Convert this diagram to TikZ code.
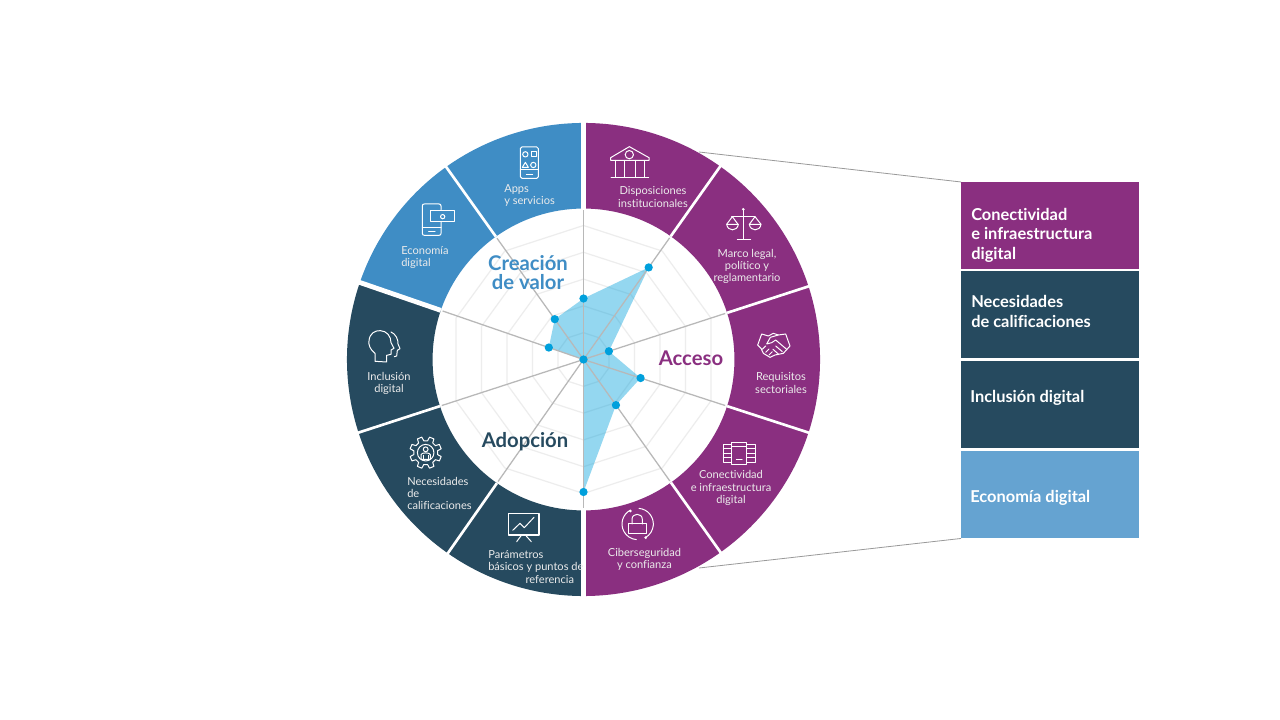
\documentclass[tikz,border=0pt]{standalone}
\usepackage{fontspec}
\setmainfont[Ligatures=NoCommon]{Lato}
\definecolor{cpurple}{HTML}{8A2F80}
\definecolor{cdark}{HTML}{264A5F}
\definecolor{cblue}{HTML}{3F8DC5}
\definecolor{clight}{HTML}{65A3D1}
\definecolor{cpoint}{HTML}{00A0DC}
\tikzset{
  gapline/.style={draw=white,line width=2pt},
  midgap/.style={draw=white,line width=3.5pt},
  widegap/.style={draw=white,line width=3.6pt},
  gridline/.style={draw=black!7,line width=.9pt},
  spoke/.style={draw=black!28,line width=.95pt},
  datapoint/.style={circle,fill=cpoint,draw=none,inner sep=0pt,minimum size=6.2pt},
  small/.style={text=white!92!black,font=\fontsize{8.3}{9.2}\selectfont,inner sep=0pt,align=center},
  smallleft/.style={small,align=left,anchor=west},
  head/.style={font=\bfseries\fontsize{15.2}{14.6}\selectfont,inner sep=0pt,align=center},
  boxfill/.style={draw=none,minimum width=133.5pt,minimum height=65.2pt,inner sep=0pt,anchor=north west},
  boxtext/.style={text=white,font=\bfseries\fontsize{12.3}{14.6}\selectfont,inner sep=0pt,align=left,anchor=west},
  icon/.style={draw=white,line width=.75pt,line join=round,line cap=round},
  leader/.style={draw=black!40,line width=.6pt},
}
\begin{document}
\begin{tikzpicture}[x=.75pt,y=.75pt]
\useasboundingbox (0,0) rectangle (1280,720);
\fill[white] (0,0) rectangle (1280,720);

% ---- wheel
\begin{scope}[shift={(583.5,720-359.5)}]
  \def\Ro{177.4pt}\def\Ri{113.2pt}
  \fill[cpurple] (90:\Ro) arc[start angle=90,end angle=-90,radius=\Ro] -- (-90:\Ri) arc[start angle=-90,end angle=90,radius=\Ri] -- cycle;
  \fill[cdark] (-90:\Ro) arc[start angle=-90,end angle=-199,radius=\Ro] -- (-199:\Ri) arc[start angle=-199,end angle=-90,radius=\Ri] -- cycle;
  \fill[cblue] (-199:\Ro) arc[start angle=-199,end angle=-270,radius=\Ro] -- (-270:\Ri) arc[start angle=-270,end angle=-199,radius=\Ri] -- cycle;
  \foreach \a in {54.7,18,-18,-54.6,-125,-162,-234.5}
    \draw[gapline] (\a:\Ri) -- (\a:180pt);
  \foreach \a in {90,-90}
    \draw[midgap] (\a:\Ri) -- (\a:180pt);
  \draw[widegap] (-199:\Ri) -- (-199:180pt);
  % grid
  \foreach \r in {26.8,53.6,80.4,107.2,134}
    \draw[gridline] (90:\r) -- (54:\r) -- (18:\r) -- (-18:\r) -- (-54:\r) -- (-90:\r) -- (-126:\r) -- (-162:\r) -- (-198:\r) -- (-234:\r) -- cycle;
  % data polygon
  \coordinate (c0) at (0,0);
  \coordinate (p0) at (90:61);
  \coordinate (p1) at (54.7:112.8);
  \coordinate (p2) at (18:26.7);
  \coordinate (p3) at (-18:60);
  \coordinate (p4) at (-54.6:56);
  \coordinate (p5) at (-90:132.5);
  \coordinate (p8) at (-199:36.7);
  \coordinate (p9) at (-234.5:49.5);
  \fill[cpoint,opacity=.42] (p0) -- (p1) -- (p2) -- (p3) -- (p4) -- (p5) -- (c0) -- (p8) -- (p9) -- cycle;
  % spokes
  \foreach \a in {90,54.7,18,-18,-54.6,-90,-125,-162,-199,-234.5}
    \draw[spoke] (c0) -- (\a:149);
  \foreach \n in {p0,p1,p2,p3,p4,p5,p8,p9,c0}
    \node[datapoint] at (\n) {};
\end{scope}

% ---- headings
\node[head,text=cblue] (hcrea) at (528,720-272.5) {Creación\\de valor};
\node[head,text=cpurple] (hacc) at (691,720-358) {Acceso};
\node[head,text=cdark] (hadop) at (525,720-442) {Adopción};

% ---- segment labels
\node[small] (t1) at (653,720-197) {Disposiciones\\institucionales};
\node[small] (t2) at (747,720-266.5) {Marco legal,\\político y\\reglamentario};
\node[small] (t3) at (781,720-383) {Requisitos\\sectoriales};
\node[small] (t4) at (731,720-488) {Conectividad\\e infraestructura\\digital};
\node[small] (t5) at (644.5,720-559.5) {Ciberseguridad\\y confianza};
\node[smallleft] (t6) at (488,720-567) {Parámetros\\básicos y puntos de\\\hspace*{28pt}referencia};
\node[smallleft] (t7) at (407,720-493.5) {Necesidades\\de\\calificaciones};
\node[small] (t8) at (389,720-383.5) {Inclusión\\digital};
\node[smallleft] (t9) at (401,720-257.5) {Economía\\digital};
\node[smallleft] (t10) at (504,720-195.5) {Apps\\y servicios};

% ---- right boxes
\node[boxfill,fill=cpurple] (b1) at (961,720-182) {};
\node[boxfill,fill=cdark] (b2) at (961,720-271) {};
\node[boxfill,fill=cdark] (b3) at (961,720-361) {};
\node[boxfill,fill=clight] (b4) at (961,720-451) {};
\node[boxtext] (bt1) at (971,720-235) {Conectividad\\e infraestructura\\digital};
\node[boxtext] (bt2) at (971,720-311.5) {Necesidades\\de calificaciones};
\node[boxtext] (bt3) at (970,720-398) {Inclusión digital};
\node[boxtext] (bt4) at (970,720-498) {Economía digital};

% ---- leaders
\coordinate (l1) at (699,720-152);
\coordinate (l2) at (699,720-568);
\draw[leader] (l1) -- (b1.north west);
\draw[leader] (l2) -- (b4.south west);

% ---- icons (coordinates are those of 3x crops)
\begin{scope}[shift={(580,720-115)},x=.25pt,y=-.25pt]
  % institution
  \draw[icon] (92,136) -- (207,136) -- (207,128) -- (148,95) -- (92,128) -- cycle;
  \draw[icon] (148,119) circle[radius=3.1pt];
  \foreach \x in {105,132,165,192} \draw[icon] (\x,136) -- (\x,187);
  \draw[icon] (93,188) -- (206,188);
  % scales
  \draw[icon] (490,285) -- (490,372) (472,373) -- (512,373) (455,305) -- (525,305);
  \draw[icon] (457,305) -- (440,328) (457,305) -- (474,328) (525,305) -- (508,328) (525,305) -- (543,328);
  \draw[icon] (440,328) -- (475,328) .. controls (472,350) and (443,350) .. (440,328);
  \draw[icon] (508,328) -- (543,328) .. controls (540,350) and (511,350) .. (508,328);
  \fill[white] (490,283) circle[radius=1.1pt];
\end{scope}

\begin{scope}[shift={(745,720-320)},x=.25pt,y=-.25pt]
  % handshake
  \draw[icon] (50,42) -- (38,75) -- (48,85) -- (55,100) -- (75,112) -- (90,105) -- (115,100) -- (135,78) -- (122,42) -- (100,45) -- (85,40) -- (70,48) -- cycle;
  \draw[icon] (100,45) -- (76,52) -- (65,72) -- (80,68) -- (92,60) -- (125,88);
  \draw[icon] (52,88) -- (62,78) (62,97) -- (72,87) (72,105) -- (82,95);
  \draw[icon] (92,78) -- (112,95) (84,88) -- (100,102);
\end{scope}

\begin{scope}[shift={(580,720-355)},x=.25pt,y=-.25pt]
  % servers
  \draw[icon] (455,262) rectangle (500,330);
  \draw[icon] (455,275) -- (500,275) (469,315) -- (486,315);
  \draw[icon] (455,268) -- (430,268) -- (430,322) -- (455,322);
  \draw[icon] (500,268) -- (525,268) -- (525,322) -- (500,322);
  \foreach \y in {282,295,308} \draw[icon] (430,\y) -- (455,\y) (500,\y) -- (525,\y);
\end{scope}

\begin{scope}[shift={(610,720-500)},x=.25pt,y=-.25pt]
  % lock
  \draw[icon] ([shift={(118:11.75pt)}]83,72) arc[start angle=118,end angle=265,radius=11.75pt];
  \draw[icon] ([shift={(85:11.75pt)}]83,72) arc[start angle=85,end angle=-60,radius=11.75pt];
  \draw[icon] (55,72) rectangle (108,102);
  \draw[icon] (66,72) -- (66,58) .. controls (66,38) and (97,38) .. (97,58) -- (97,72);
  \fill[white] (61,33) circle[radius=1.1pt] (107,113) circle[radius=1.1pt];
\end{scope}

\begin{scope}[shift={(340,720-355)},x=.25pt,y=-.25pt]
  % board
  \draw[icon,line width=.95pt] (505,475) rectangle (597,540);
  \draw[icon] (518,526) -- (540,505) -- (553,518) -- (582,487);
  \draw[icon] (545,540) -- (530,560) (556,540) -- (574,560);
\end{scope}

\begin{scope}[shift={(400,720-430)},x=.25pt,y=-.25pt]
  % gear
  \begin{scope}[shift={(77,68)}]
    \draw[icon]
      foreach \k in {0,...,7} {
        ({\k*45-14}:12pt) -- ({\k*45-9}:9pt) -- ({\k*45+9}:9pt) -- ({\k*45+14}:12pt) -- ({\k*45+31}:12pt) -- ({\k*45+36}:9pt)
      };
    \draw[icon] (0,0) circle[radius=6.2pt];
    \draw[icon] (0,-10) circle[radius=1.8pt];
    \draw[icon] (-14,20) -- (-14,6) .. controls (-14,-1) and (14,-1) .. (14,6) -- (14,20) -- cycle;
    \draw[icon,line width=.5pt] (-7,20) -- (-7,8) (7,20) -- (7,8);
  \end{scope}
\end{scope}

\begin{scope}[shift={(355,720-320)},x=.25pt,y=-.25pt]
  % heads
  \draw[icon] (60,124) -- (60,100) .. controls (45,88) and (40,75) .. (42,62) .. controls (44,40) and (60,31) .. (76,32) .. controls (95,33) and (108,48) .. (108,68) -- (117,85) -- (108,90) -- (108,103) -- (95,106) -- (95,126) -- cycle;
  \draw[icon] (108,36) .. controls (122,42) and (130,58) .. (129,72) -- (135,86) -- (127,91) -- (125,108) -- (118,110);
\end{scope}

\begin{scope}[shift={(340,720-115)},x=.25pt,y=-.25pt]
  % phone + note
  \draw[icon] (303,284) -- (303,273) .. controls (303,269) and (301,267) .. (297,267) -- (253,267) .. controls (249,267) and (247,269) .. (247,273) -- (247,355) .. controls (247,359) and (249,361) .. (253,361) -- (297,361) .. controls (301,361) and (303,359) .. (303,355) -- (303,321);
  \draw[icon] (247,338) -- (303,338) (266,350) -- (285,350);
  \draw[icon] (272,288) rectangle (343,321);
  \draw[icon] (308,305) circle[radius=1.6pt];
  % app phone
  \draw[icon,rounded corners=1.2pt] (541,96) rectangle (595,190);
  \draw[icon] (541,165) -- (595,165) (559,179) -- (578,179);
  \draw[icon] (556,118) circle[radius=2pt];
  \draw[icon] (573,110) rectangle (590,126);
  \draw[icon] (547,157) -- (556,142) -- (565,157) -- cycle;
  \draw[icon] (580,150) circle[radius=2pt];
\end{scope}
\end{tikzpicture}
\end{document}
